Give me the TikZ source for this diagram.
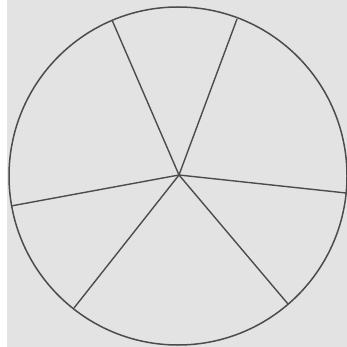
\documentclass[tikz,border=0pt]{standalone}
\begin{document}
\begin{tikzpicture}[x=1pt,y=-1pt,
  rim/.style={draw=black!70,line width=1.5pt},
  spoke/.style={draw=black!70,line width=1.4pt}]
\useasboundingbox (0,0) rectangle (347,347);
\fill[white] (0,0) rectangle (347,347);
\fill[black!11] (7,0) rectangle (347,347);
\coordinate (c) at (178,176);
\coordinate (hub) at (179,175);
\coordinate (p1) at (112,20);
\coordinate (p2) at (237,19);
\coordinate (p3) at (346,193);
\coordinate (p4) at (288,304);
\coordinate (p5) at (74,308);
\coordinate (p6) at (11,206);
\draw[rim] (c) circle[radius=169];
\foreach \p in {p1,p2,p3,p4,p5,p6}
  \draw[spoke] (hub) -- (\p);
\end{tikzpicture}
\end{document}
